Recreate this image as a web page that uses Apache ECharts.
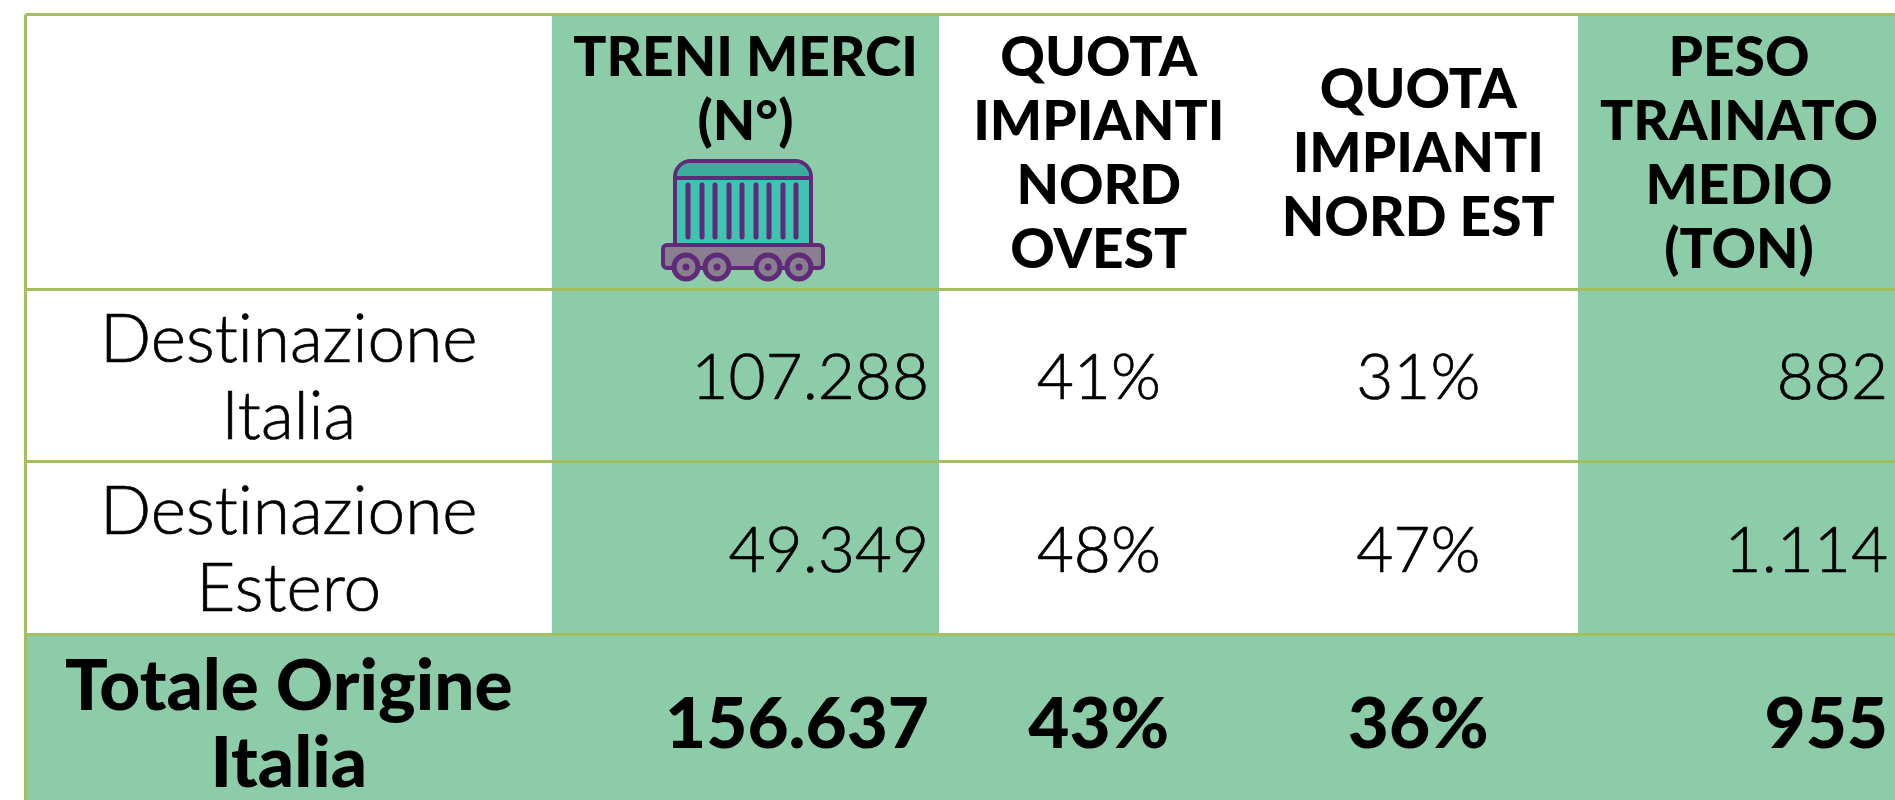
<!DOCTYPE html>
<html>
<head>
<meta charset="utf-8">
<title>Treni merci</title>
<style>
  html, body { margin: 0; padding: 0; background: #fff; }
  #main { width: 1895px; height: 800px; }
</style>
</head>
<body>
<div id="main"></div>
<script src="https://cdn.jsdelivr.net/npm/echarts@6/dist/echarts.min.js"></script>
<script>
// dati della tabella
var headers = ['', 'TRENI MERCI\n(N°)\n \n ', 'QUOTA\nIMPIANTI\nNORD\nOVEST', 'QUOTA\nIMPIANTI\nNORD EST', 'PESO\nTRAINATO\nMEDIO\n(TON)'];
var rowLabels = ['Destinazione\nItalia', 'Destinazione\nEstero', 'Totale Origine\nItalia'];
var treniMerci = [107288, 49349, 156637];
var quotaNordOvest = [41, 48, 43];
var quotaNordEst = [31, 47, 36];
var pesoMedio = [882, 1114, 955];

// griglia della tabella, in pixel
var colEdges = [25.5, 552, 939, 1258.5, 1578, 1900];
var rowEdges = [14.5, 289.5, 461.5, 634.5, 811];
var GREEN = '#8ccca9';
var LINE = '#a4bf5f';
var FONT = 'Lato';

function thousands(n) {
  return String(n).replace(/\B(?=(\d{3})+$)/g, '.');
}
function percent(n) {
  return n + '%';
}

var columns = [
  rowLabels,
  treniMerci.map(thousands),
  quotaNordOvest.map(percent),
  quotaNordEst.map(percent),
  pesoMedio.map(thousands)
];

// una riga di cella per ogni incrocio colonna/riga (riga 0 = intestazione)
var cells = [];
columns.forEach(function (col, c) {
  cells.push({ value: [c, 0], text: headers[c] });
  col.forEach(function (t, r) {
    cells.push({ value: [c, r + 1], text: t });
  });
});

function isGreen(c, r) {
  return r === 3 || c === 1 || c === 4;
}

function renderFill(params, api) {
  var c = api.value(0), r = api.value(1);
  var a = api.coord([colEdges[c], rowEdges[r]]);
  var b = api.coord([colEdges[c + 1], rowEdges[r + 1]]);
  var x = Math.round(a[0]), y = Math.round(a[1]);
  return {
    type: 'rect',
    shape: { x: x, y: y, width: Math.round(b[0]) - x, height: Math.round(b[1]) - y },
    style: { fill: isGreen(c, r) ? GREEN : '#fff' }
  };
}

function renderText(params, api) {
  var c = api.value(0), r = api.value(1);
  var a = api.coord([colEdges[c], rowEdges[r]]);
  var b = api.coord([colEdges[c + 1], rowEdges[r + 1]]);
  var right = (c === 1 || c === 4) && r > 0;
  var bold = r === 0 || r === 3;
  var size = r === 0 ? 55 : r === 3 ? 71 : c === 0 ? 67.5 : 64;
  return {
    type: 'text',
    style: {
      x: right ? b[0] - (c === 1 ? 10 : 12) : (a[0] + b[0]) / 2,
      y: (a[1] + b[1]) / 2 + (r === 0 ? 2.5 : r === 3 ? 2.5 : 3),
      text: cells[params.dataIndex].text,
      align: right ? 'right' : 'center',
      verticalAlign: 'middle',
      fontFamily: FONT,
      fontWeight: bold ? 900 : 300,
      fontSize: size,
      lineHeight: r === 0 ? 64 : 77,
      fill: '#000',
      stroke: bold ? null : '#000',
      lineWidth: bold ? 0 : 0.7
    }
  };
}

// linee orizzontali e bordo sinistro
var lines = rowEdges.slice(0, 4).map(function (y) {
  return [colEdges[0], y, colEdges[5], y];
}).concat([[colEdges[0], rowEdges[0], colEdges[0], rowEdges[4]]]);

function renderLine(params, api) {
  var a = api.coord([api.value(0), api.value(1)]);
  var b = api.coord([api.value(2), api.value(3)]);
  return {
    type: 'line',
    shape: { x1: a[0], y1: a[1], x2: b[0], y2: b[1] },
    style: { stroke: LINE, lineWidth: 3 }
  };
}

// icona del vagone
var PURPLE = '#5f2b78';
var wagon = [
  { type: 'rect', shape: { x: 675, y: 161, width: 136, height: 90, r: [16, 16, 0, 0] }, style: { fill: '#3fc4b1', stroke: PURPLE, lineWidth: 4 } },
  { type: 'rect', shape: { x: 677, y: 163, width: 132, height: 15, r: [14, 14, 0, 0] }, style: { fill: '#39ae9f' } },
  { type: 'line', shape: { x1: 675, y1: 178, x2: 811, y2: 178 }, style: { stroke: PURPLE, lineWidth: 4 } },
  { type: 'rect', shape: { x: 663, y: 245, width: 160, height: 23, r: 4 }, style: { fill: '#8a7f90', stroke: PURPLE, lineWidth: 4 } }
];
[688, 702, 715, 729, 742, 756, 769, 783, 796].forEach(function (x) {
  wagon.push({ type: 'line', shape: { x1: x, y1: 185, x2: x, y2: 237 }, style: { stroke: PURPLE, lineWidth: 5, lineCap: 'round' } });
});
[686, 717, 768, 799].forEach(function (x) {
  wagon.push({ type: 'circle', shape: { cx: x, cy: 267, r: 12 }, style: { fill: '#8a7f90', stroke: PURPLE, lineWidth: 5 } });
  wagon.push({ type: 'circle', shape: { cx: x, cy: 267, r: 3.5 }, style: { fill: PURPLE } });
});

var myChart = echarts.init(document.getElementById('main'));
var option = {
  animation: false,
  backgroundColor: '#fff',
  grid: { left: 0, right: 0, top: 0, bottom: 0 },
  xAxis: { type: 'value', min: 0, max: 1895, show: false },
  yAxis: { type: 'value', min: 0, max: 800, inverse: true, show: false },
  graphic: wagon.map(function (el) { el.z = 10; el.silent = true; return el; }),
  series: [
    { type: 'custom', name: 'celle', silent: true, clip: true, z: 1, data: cells, renderItem: renderFill },
    { type: 'custom', name: 'linee', silent: true, clip: true, z: 2, data: lines, renderItem: renderLine },
    { type: 'custom', name: 'testi', silent: true, clip: true, z: 3, data: cells, renderItem: renderText }
  ]
};
myChart.setOption(option);

// niente legature "ti" nel font: il contesto esiste solo dopo il primo disegno
var zr = myChart.getZr();
zr.refreshImmediately();
document.querySelectorAll('#main canvas').forEach(function (cv) {
  cv.getContext('2d').textRendering = 'optimizeSpeed';
});
myChart.resize();
zr.refreshImmediately();
</script>
</body>
</html>
